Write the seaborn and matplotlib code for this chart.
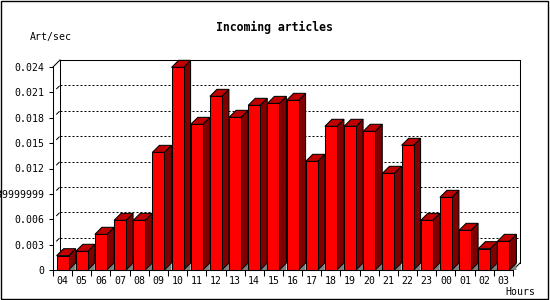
import matplotlib
matplotlib.use("Agg")
import matplotlib.pyplot as plt
from matplotlib.patches import Polygon, Rectangle
from matplotlib.lines import Line2D
import seaborn as sns
import pandas as pd

hours = ["04", "05", "06", "07", "08", "09", "10", "11", "12", "13", "14", "15",
         "16", "17", "18", "19", "20", "21", "22", "23", "00", "01", "02", "03"]
rates = [0.00169, 0.00221, 0.00422, 0.00587, 0.00587, 0.01391, 0.02396, 0.01722,
         0.02053, 0.01805, 0.01947, 0.01970, 0.02006, 0.01285, 0.01699, 0.01699,
         0.01640, 0.01143, 0.01474, 0.00587, 0.00859, 0.00469, 0.00252, 0.00339]
ytick_values = [0, 0.003, 0.006, 0.009, 0.012, 0.015, 0.018, 0.021, 0.024]
ytick_labels = ["0", "0.003", "0.006", "0.0089999999", "0.012", "0.015",
                "0.018", "0.021", "0.024"]
title = "Incoming articles"
ylabel = "Art/sec"
xlabel = "Hours"

sns.set_style("white")
plt.rcParams["font.family"] = ["DejaVu Sans Mono", "DejaVu Sans"]

W, H = 550, 300
fig = plt.figure(figsize=(W / 100, H / 100), dpi=100)
fig.patch.set_facecolor("white")

# front plot area in pixels
x0p, x1p, y0p, y1p = 53, 513, 270, 67
ax = fig.add_axes([x0p / W, (H - y0p) / H, (x1p - x0p) / W, (y0p - y1p) / H])
ax.set_facecolor("none")

df = pd.DataFrame({"hour": hours, "rate": rates})
sns.barplot(data=df, x="hour", y="rate", color="#FF0000", saturation=1,
            width=0.626, edgecolor="black", linewidth=0.75, ax=ax, zorder=3)

ax.set_xlim(-0.5, len(hours) - 0.5)
ax.set_ylim(0, ytick_values[-1])

# depth in data units (7 px)
dx = 7 * (len(hours)) / (x1p - x0p)
dy = 7 * ytick_values[-1] / (y0p - y1p)

lw = 0.75
# back plane grid lines
xl, xr = -0.5, len(hours) - 0.5
for v in ytick_values[1:-1]:
    ax.add_line(Line2D([xl + dx, xr + dx], [v + dy, v + dy], color="black",
                       lw=0.72, dashes=(2, 2), clip_on=False, zorder=1))
    # small depth slash
    ax.add_line(Line2D([xl + 0.5 * dx, xl + 0.9 * dx], [v + 0.5 * dy, v + 0.9 * dy],
                       color="black", lw=0.72, clip_on=False, zorder=1))

top = ytick_values[-1]
frame = [
    ([xl + dx, xl + dx], [dy, top + dy]),
    ([xl + dx, xr + dx], [top + dy, top + dy]),
    ([xr + dx, xr + dx], [dy, top + dy]),
    ([xr, xr + dx], [0, dy]),
    ([xl, xl + dx], [top, top + dy]),
]
for xs, ys in frame:
    ax.add_line(Line2D(xs, ys, color="black", lw=lw, clip_on=False, zorder=1,
                       solid_capstyle="projecting"))

# 3D parts of the bars
for p in ax.patches[:len(hours)]:
    bx, bw, bh = p.get_x(), p.get_width(), p.get_height()
    xa, xb = bx, bx + bw
    # floor shadow triangle
    ax.add_patch(Polygon([(xb, 0), (xb + dx, dy), (xb + dx, 0)], closed=True,
                         facecolor="#808080", edgecolor="none", clip_on=False, zorder=2))
    # side face
    ax.add_patch(Polygon([(xb, 0), (xb + dx, dy), (xb + dx, bh + dy), (xb, bh)],
                         closed=True, facecolor="#800000", edgecolor="black",
                         lw=lw, clip_on=False, zorder=2.5))
    # top face
    ax.add_patch(Polygon([(xa, bh), (xb, bh), (xb + dx, bh + dy), (xa + dx, bh + dy)],
                         closed=True, facecolor="#C00000", edgecolor="black",
                         lw=lw, clip_on=False, zorder=2.5))
    p.set_clip_on(False)

# axes styling
for s in ["top", "right"]:
    ax.spines[s].set_visible(False)
for s in ["left", "bottom"]:
    ax.spines[s].set_linewidth(lw)
    ax.spines[s].set_color("black")
    ax.spines[s].set_zorder(4)

ax.set_yticks(ytick_values)
ax.set_yticklabels(ytick_labels)
ax.tick_params(axis="y", direction="out", length=3, width=lw, pad=3,
               labelsize=7.1, colors="black", left=True)
ax.set_xticks(range(len(hours)))
ax.set_xticklabels(hours)
ax.set_xticks([i - 0.5 for i in range(len(hours) + 1)], minor=True)
ax.tick_params(axis="x", which="major", length=0, pad=4.5, labelsize=7.1, colors="black")
ax.tick_params(axis="x", which="minor", direction="out", length=4.3, width=lw,
               bottom=True, colors="black")
ax.set_xlabel("")
ax.set_ylabel("")

fig.text(274 / W, 1 - 27 / H, title, ha="center", va="center",
         fontsize=8.3, fontweight="bold", color="black")
fig.text(30 / W, 1 - 37 / H, ylabel, ha="left", va="center", fontsize=7.1, color="black")
fig.text(505 / W, 1 - 292 / H, xlabel, ha="left", va="center", fontsize=7.1, color="black")

# outer border
fig.add_artist(Rectangle((0.5 / W, 1.5 / H), 547.5 / W, 298 / H, transform=fig.transFigure,
                         fill=False, edgecolor="black", lw=1.0))

fig.savefig("out.png", dpi=100)
